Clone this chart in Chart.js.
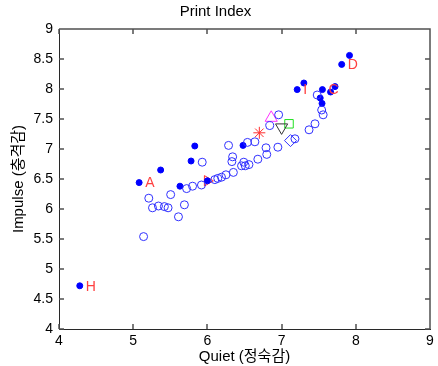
<!DOCTYPE html>
<html>
<head>
<meta charset="utf-8">
<script src="https://cdn.jsdelivr.net/npm/chart.js@4"></script>
<style>
  html, body { margin: 0; padding: 0; background: #fff; }
  #wrap { width: 438px; height: 366px; }
</style>
</head>
<body>
<div id="wrap"><canvas id="chart" width="438" height="366"></canvas></div>
<script>
// open circles (x, y)
const openX = [5.14, 5.21, 5.26, 5.34, 5.42, 5.47, 5.505, 5.61, 5.69, 5.72, 5.80, 5.92, 5.93, 6.10, 6.14, 6.19, 6.25, 6.285, 6.33, 6.34, 6.35, 6.46, 6.49, 6.51, 6.56, 6.54, 6.64, 6.68, 6.79, 6.80, 6.84, 6.95, 6.96, 7.18, 7.37, 7.45, 7.48, 7.54, 7.56];
const openY = [5.54, 6.18, 6.02, 6.05, 6.04, 6.02, 6.24, 5.87, 6.07, 6.34, 6.38, 6.40, 6.78, 6.49, 6.51, 6.53, 6.57, 7.06, 6.79, 6.87, 6.61, 6.72, 6.78, 6.72, 6.74, 7.11, 7.12, 6.83, 7.02, 6.91, 7.39, 7.03, 7.57, 7.17, 7.32, 7.42, 7.90, 7.65, 7.57];
// filled dots
const fillX = [4.28, 5.08, 5.37, 5.63, 5.78, 5.83, 6.00, 6.48, 7.21, 7.30, 7.52, 7.545, 7.55, 7.66, 7.72, 7.81, 7.915];
const fillY = [4.72, 6.44, 6.65, 6.38, 6.80, 7.05, 6.47, 7.06, 7.99, 8.10, 7.85, 7.76, 7.99, 7.95, 8.04, 8.41, 8.56];
// letter labels beside some dots
const tagText = ['H', 'A', 'I', 'C', 'D'];
const tagX = [4.28, 5.08, 7.21, 7.55, 7.81];
const tagY = [4.72, 6.44, 7.99, 7.99, 8.41];
// special markers
const markX = [6.00, 6.70, 6.86, 7.00, 7.10, 7.12];
const markY = [6.47, 7.27, 7.52, 7.36, 7.42, 7.14];
const xTicks = [4, 5, 6, 7, 8, 9];
const yTicks = [4, 4.5, 5, 5.5, 6, 6.5, 7, 7.5, 8, 8.5, 9];

const FONT = 'Arial, "Liberation Sans", "Noto Sans CJK KR", sans-serif';
const AXIS = 'rgb(40,40,40)';
const pts = (xs, ys) => xs.map((x, i) => ({ x, y: ys[i] }));
const mk = (i) => [{ x: markX[i], y: markY[i] }];

// top/right frame and inward tick marks (MATLAB box on)
const boxTicks = {
  id: 'boxTicks',
  afterDraw(chart) {
    const ctx = chart.ctx;
    const sx = chart.scales.x, sy = chart.scales.y;
    const px = (v) => Math.round(sx.getPixelForValue(v));
    const py = (v) => Math.round(sy.getPixelForValue(v));
    const L = px(4), R = px(9), T = py(9), B = py(4);
    ctx.save();
    ctx.setLineDash([]);
    ctx.strokeStyle = 'rgb(80,80,80)';
    ctx.lineWidth = 1.5;
    ctx.beginPath();
    ctx.moveTo(L, T); ctx.lineTo(R, T); ctx.lineTo(R, B);
    xTicks.forEach((v) => {
      ctx.moveTo(px(v), B); ctx.lineTo(px(v), B - 5);
      ctx.moveTo(px(v), T); ctx.lineTo(px(v), T + 5);
    });
    yTicks.forEach((v) => {
      ctx.moveTo(L, py(v)); ctx.lineTo(L + 5, py(v));
      ctx.moveTo(R, py(v)); ctx.lineTo(R - 5, py(v));
    });
    ctx.stroke();
    // letter tags
    ctx.fillStyle = '#ff4040';
    ctx.font = '14px ' + FONT;
    ctx.textAlign = 'left';
    ctx.textBaseline = 'middle';
    tagText.forEach((t, i) => {
      ctx.fillText(t, sx.getPixelForValue(tagX[i]) + 6, sy.getPixelForValue(tagY[i]) + 1);
    });
    ctx.restore();
  },
};

new Chart(document.getElementById('chart'), {
  type: 'scatter',
  data: {
    datasets: [
      { data: pts(openX, openY), pointStyle: 'circle', pointRadius: 4, backgroundColor: 'rgba(0,0,0,0)', borderColor: '#3030ff', borderWidth: 1 },
      { data: pts(fillX, fillY), pointStyle: 'circle', pointRadius: 3, backgroundColor: '#0000ff', borderColor: '#0000ff', borderWidth: 1 },
      { data: mk(0), pointStyle: 'triangle', rotation: 90, pointRadius: 6, backgroundColor: 'rgba(0,0,0,0)', borderColor: '#ff3030', borderWidth: 1 },
      { data: mk(1), pointStyle: 'star', pointRadius: 6, backgroundColor: 'rgba(0,0,0,0)', borderColor: '#ff3030', borderWidth: 1 },
      { data: mk(2), pointStyle: 'triangle', pointRadius: 7, backgroundColor: 'rgba(0,0,0,0)', borderColor: '#ff30ff', borderWidth: 1 },
      { data: mk(3), pointStyle: 'triangle', rotation: 180, pointRadius: 7, backgroundColor: 'rgba(0,0,0,0)', borderColor: '#333333', borderWidth: 1 },
      { data: mk(4), pointStyle: 'rect', pointRadius: 6, backgroundColor: 'rgba(0,0,0,0)', borderColor: '#20e020', borderWidth: 1 },
      { data: mk(5), pointStyle: 'rectRot', pointRadius: 6, backgroundColor: 'rgba(0,0,0,0)', borderColor: '#3030ff', borderWidth: 1 },
    ],
  },
  options: {
    responsive: false,
    animation: false,
    layout: { padding: { left: 0, right: 7, top: 0, bottom: 0 } },
    plugins: {
      legend: { display: false },
      tooltip: { enabled: false },
      title: { display: true, text: 'Print Index', color: '#000', font: { family: FONT, size: 15, weight: 'normal' }, padding: { top: 3, bottom: 8 } },
    },
    scales: {
      x: {
        type: 'linear', min: 4, max: 9,
        afterBuildTicks: (s) => { s.ticks = xTicks.map((v) => ({ value: v })); },
        afterFit: (s) => { s.height = 37; },
        grid: { display: false, drawTicks: false },
        border: { display: true, color: AXIS, width: 1 },
        ticks: { color: '#000', font: { family: FONT, size: 14 }, padding: 4, callback: (v) => String(v) },
        title: { display: true, text: 'Quiet (정숙감)', color: '#000', font: { family: FONT, size: 15 }, padding: { top: 0, bottom: 0 } },
      },
      y: {
        type: 'linear', min: 4, max: 9,
        afterBuildTicks: (s) => { s.ticks = yTicks.map((v) => ({ value: v })); },
        afterFit: (s) => { s.width = 59; },
        grid: { display: false, drawTicks: false },
        border: { display: true, color: AXIS, width: 1 },
        ticks: { color: '#000', font: { family: FONT, size: 14 }, padding: 6, callback: (v) => String(v) },
        title: { display: true, text: 'Impulse (충격감)', color: '#000', font: { family: FONT, size: 15 }, padding: { top: 10, bottom: 0 } },
      },
    },
  },
  plugins: [boxTicks],
});
</script>
</body>
</html>
